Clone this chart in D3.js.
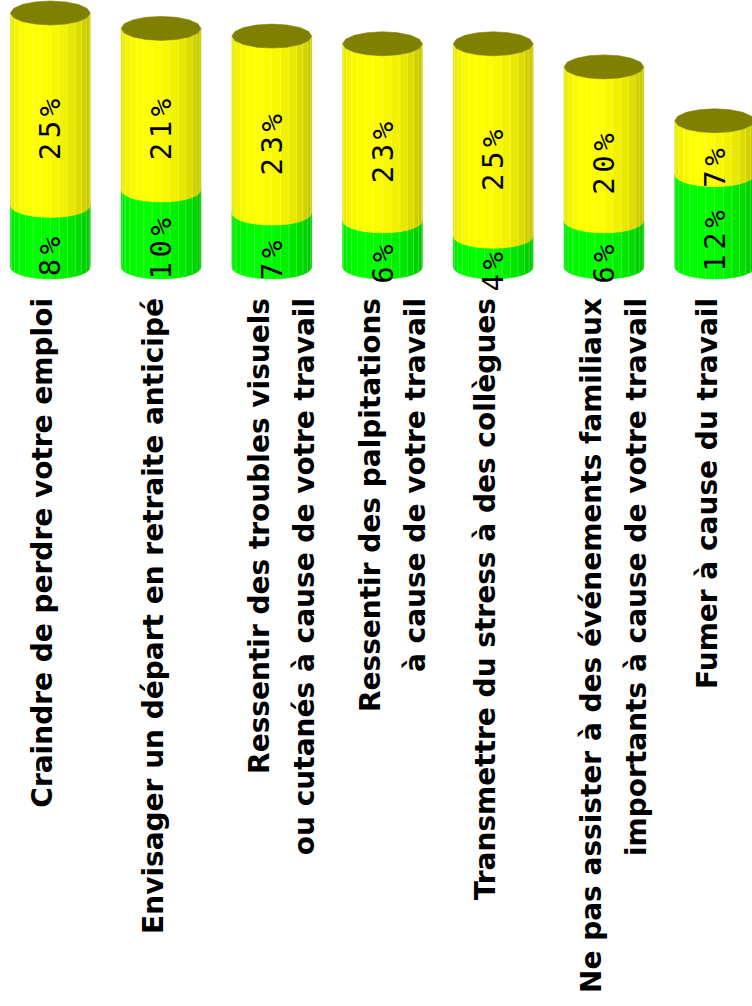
<!DOCTYPE html>
<html><head><meta charset="utf-8">
<script src="https://cdn.jsdelivr.net/npm/d3@7"></script>
<style>html,body{margin:0;padding:0;background:#fff;overflow:hidden}</style>
</head><body>
<svg id="chart" width="752" height="1006"></svg>
<script>
const categories = [
  ["Craindre de perdre votre emploi"],
  ["Envisager un départ en retraite anticipé"],
  ["Ressentir des troubles visuels", "ou cutanés à cause de votre travail"],
  ["Ressentir des palpitations", "à cause de votre travail"],
  ["Transmettre du stress à des collègues"],
  ["Ne pas assister à des événements familiaux", "importants à cause de votre travail"],
  ["Fumer à cause du travail"]
];
const greenValues  = [8, 10, 7, 6, 4, 6, 12];
const yellowValues = [25, 21, 23, 23, 25, 20, 7];
const seriesNames = ["green", "yellow"];

const svg = d3.select("#chart");
svg.append("rect").attr("width", 752).attr("height", 1006).attr("fill", "#fff");

const x = d3.scaleBand().domain(d3.range(categories.length)).range([-5, 770]).paddingInner(0.28).paddingOuter(0.14);
const y = d3.scaleLinear().domain([0, 33]).range([267, 13]);
const rx = x.bandwidth() / 2, ry = 12;

const baseColors = { green: [0, 255, 0], yellow: [255, 255, 0] };
const NF = 14;
function shade(c, k) { return d3.rgb(c[0] * k, c[1] * k, c[2] * k); }
function facetK(i) {
  const t = (i + 0.5) / NF;
  const th = Math.PI * (1 - t);
  const light = Math.PI * 0.62;
  const d = Math.cos(th - light);
  return 0.78 + 0.22 * Math.max(0, d);
}

const data = categories.map((c, i) => ({ i, segs: [
  { s: "green", v0: 0, v1: greenValues[i], val: greenValues[i] },
  { s: "yellow", v0: greenValues[i], v1: greenValues[i] + yellowValues[i], val: yellowValues[i] }
]}));

const bars = svg.append("g").selectAll("g.bar").data(data).join("g").attr("class", "bar");

bars.each(function(d) {
  const g = d3.select(this);
  const cx = x(d.i) + rx;
  d.segs.forEach(seg => {
    const yT = y(seg.v1), yB = y(seg.v0);
    for (let f = 0; f < NF; f++) {
      const a1 = Math.PI * (1 - f / NF), a2 = Math.PI * (1 - (f + 1) / NF);
      const x1 = cx + rx * Math.cos(a1), x2 = cx + rx * Math.cos(a2);
      const s1 = ry * Math.sin(a1), s2 = ry * Math.sin(a2);
      const pts = [[x1, yT + s1], [x2, yT + s2], [x2, yB + s2], [x1, yB + s1]];
      g.append("path").attr("d", d3.line()(pts) + "Z")
        .attr("fill", shade(baseColors[seg.s], facetK(f)))
        .attr("stroke", shade(baseColors[seg.s], facetK(f)))
        .attr("stroke-width", 0.6);
      if (f > 0) {
        g.append("line").attr("x1", x1).attr("x2", x1).attr("y1", yT + s1).attr("y2", yB + s1)
          .attr("stroke", seg.s === "yellow" ? "#ffff90" : "#90ff90").attr("stroke-width", 0.6).attr("opacity", 0.6);
      }
    }
  });
  const top = y(d.segs[1].v1);
  const capPts = d3.range(0, 16).map(k => {
    const a = 2 * Math.PI * k / 16;
    return [cx + rx * Math.cos(a), top + ry * Math.sin(a)];
  });
  g.append("path").attr("d", d3.line()(capPts) + "Z").attr("fill", "#808000").attr("stroke", "#808000").attr("stroke-width", 0.6);
});

bars.each(function(d) {
  const g = d3.select(this);
  const cx = x(d.i) + rx;
  d.segs.forEach(seg => {
    const ym = (y(seg.v0) + y(seg.v1)) / 2 + 18;
    g.append("text")
      .attr("transform", `translate(${cx + 10},${ym}) rotate(-90)`)
      .attr("text-anchor", "middle")
      .attr("font-family", "DejaVu Sans Mono")
      .attr("font-size", 29)
      .attr("letter-spacing", 4.5)
      .attr("fill", "#000")
      .text(seg.val + "%");
  });
});

const labelTop = 298, lineGap = 45;
const labs = svg.append("g").selectAll("g.lab").data(categories).join("g").attr("class", "lab");
labs.each(function(lines, i) {
  const cx = x(i) + rx;
  const n = lines.length;
  lines.forEach((t, j) => {
    const bx = n === 1 ? cx + 2 : cx - 3 + j * lineGap;
    d3.select(this).append("text")
      .attr("transform", `translate(${bx},${labelTop}) rotate(-90)`)
      .attr("text-anchor", "end")
      .attr("font-family", "DejaVu Sans")
      .attr("font-weight", "bold")
      .attr("font-size", 28)
      .attr("fill", "#000")
      .text(t);
  });
});
</script>
</body></html>
